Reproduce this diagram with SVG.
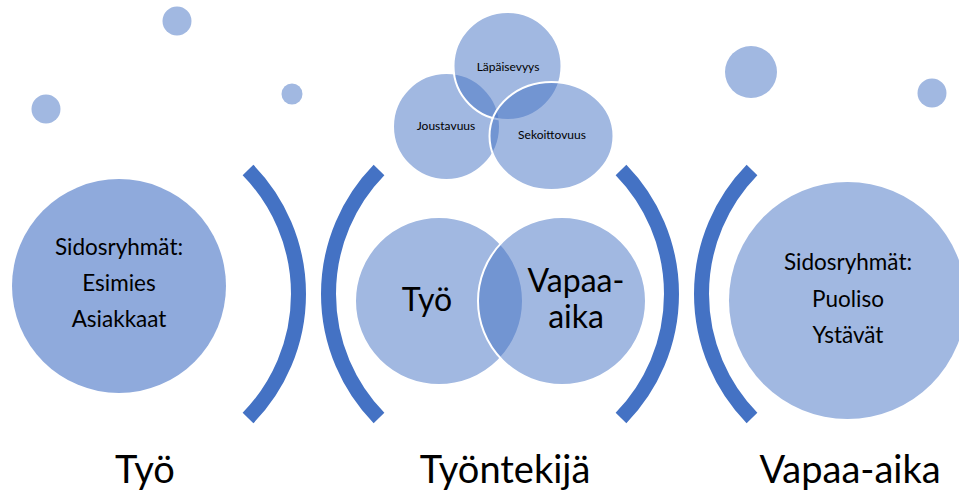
<svg xmlns="http://www.w3.org/2000/svg" width="959" height="491" viewBox="0 0 959 491">
<style>
  text { font-family: Lato, "Open Sans", "Liberation Sans", sans-serif; fill: #000; text-anchor: middle; }
  .dot { fill: #a1b8e1; }
  .venn { fill: #4472c4; fill-opacity: 0.5; stroke: #fff; stroke-width: 2; }
  .arc { fill: none; stroke: #4472c4; stroke-width: 15; stroke-linecap: butt; }
  .big { font-size: 22.5px; }
  .mid { font-size: 32px; }
  .small { font-size: 12px; }
  .label { font-size: 38px; }
</style>
<rect width="959" height="491" fill="#fff"/>
<g id="dots">
  <circle class="dot" cx="177" cy="21" r="14.5"/>
  <circle class="dot" cx="46" cy="109" r="14.5"/>
  <circle class="dot" cx="292" cy="94" r="10.5"/>
  <circle class="dot" cx="751" cy="72" r="26"/>
  <circle class="dot" cx="932" cy="93" r="14.5"/>
</g>
<g id="node-tyo-sidos">
  <circle cx="119" cy="286" r="107" fill="#8faadc"/>
  <text class="big" x="119" y="255">Sidosryhmät:</text>
  <text class="big" x="119" y="291">Esimies</text>
  <text class="big" x="119" y="327">Asiakkaat</text>
</g>
<g id="node-vapaa-sidos">
  <circle cx="847.5" cy="300.5" r="118.5" fill="#a1b8e1"/>
  <text class="big" x="848" y="270">Sidosryhmät:</text>
  <text class="big" x="848" y="307">Puoliso</text>
  <text class="big" x="848" y="343">Ystävät</text>
</g>
<g id="node-top-venn">
  <circle class="venn" cx="446.5" cy="126.5" r="53.5" stroke="none"/>
  <circle class="venn" cx="507.5" cy="66" r="54"/>
  <ellipse class="venn" cx="551.5" cy="136" rx="62" ry="54"/>
  <text class="small" x="508" y="71">Läpäisevyys</text>
  <text class="small" x="446" y="130">Joustavuus</text>
  <text class="small" x="552" y="139">Sekoittovuus</text>
</g>
<g id="node-mid-venn">
  <circle class="venn" cx="439" cy="301" r="84" stroke="none"/>
  <circle class="venn" cx="562" cy="301" r="84"/>
  <text class="mid" x="427" y="311">Työ</text>
  <text class="mid" x="576" y="292">Vapaa-</text>
  <text class="mid" x="576" y="328">aika</text>
</g>
<g id="connectors">
  <path class="arc" d="M248,170 A177.5,177.5 0 0 1 248,418"/>
  <path class="arc" d="M379,170 A177.5,177.5 0 0 0 379,418"/>
  <path class="arc" d="M621,170 A177.5,177.5 0 0 1 621,418"/>
  <path class="arc" d="M752,170 A177.5,177.5 0 0 0 752,418"/>
</g>
<g id="labels">
  <text class="label" x="145" y="483">Työ</text>
  <text class="label" x="505" y="483">Työntekijä</text>
  <text class="label" x="850" y="483">Vapaa-aika</text>
</g>
</svg>
